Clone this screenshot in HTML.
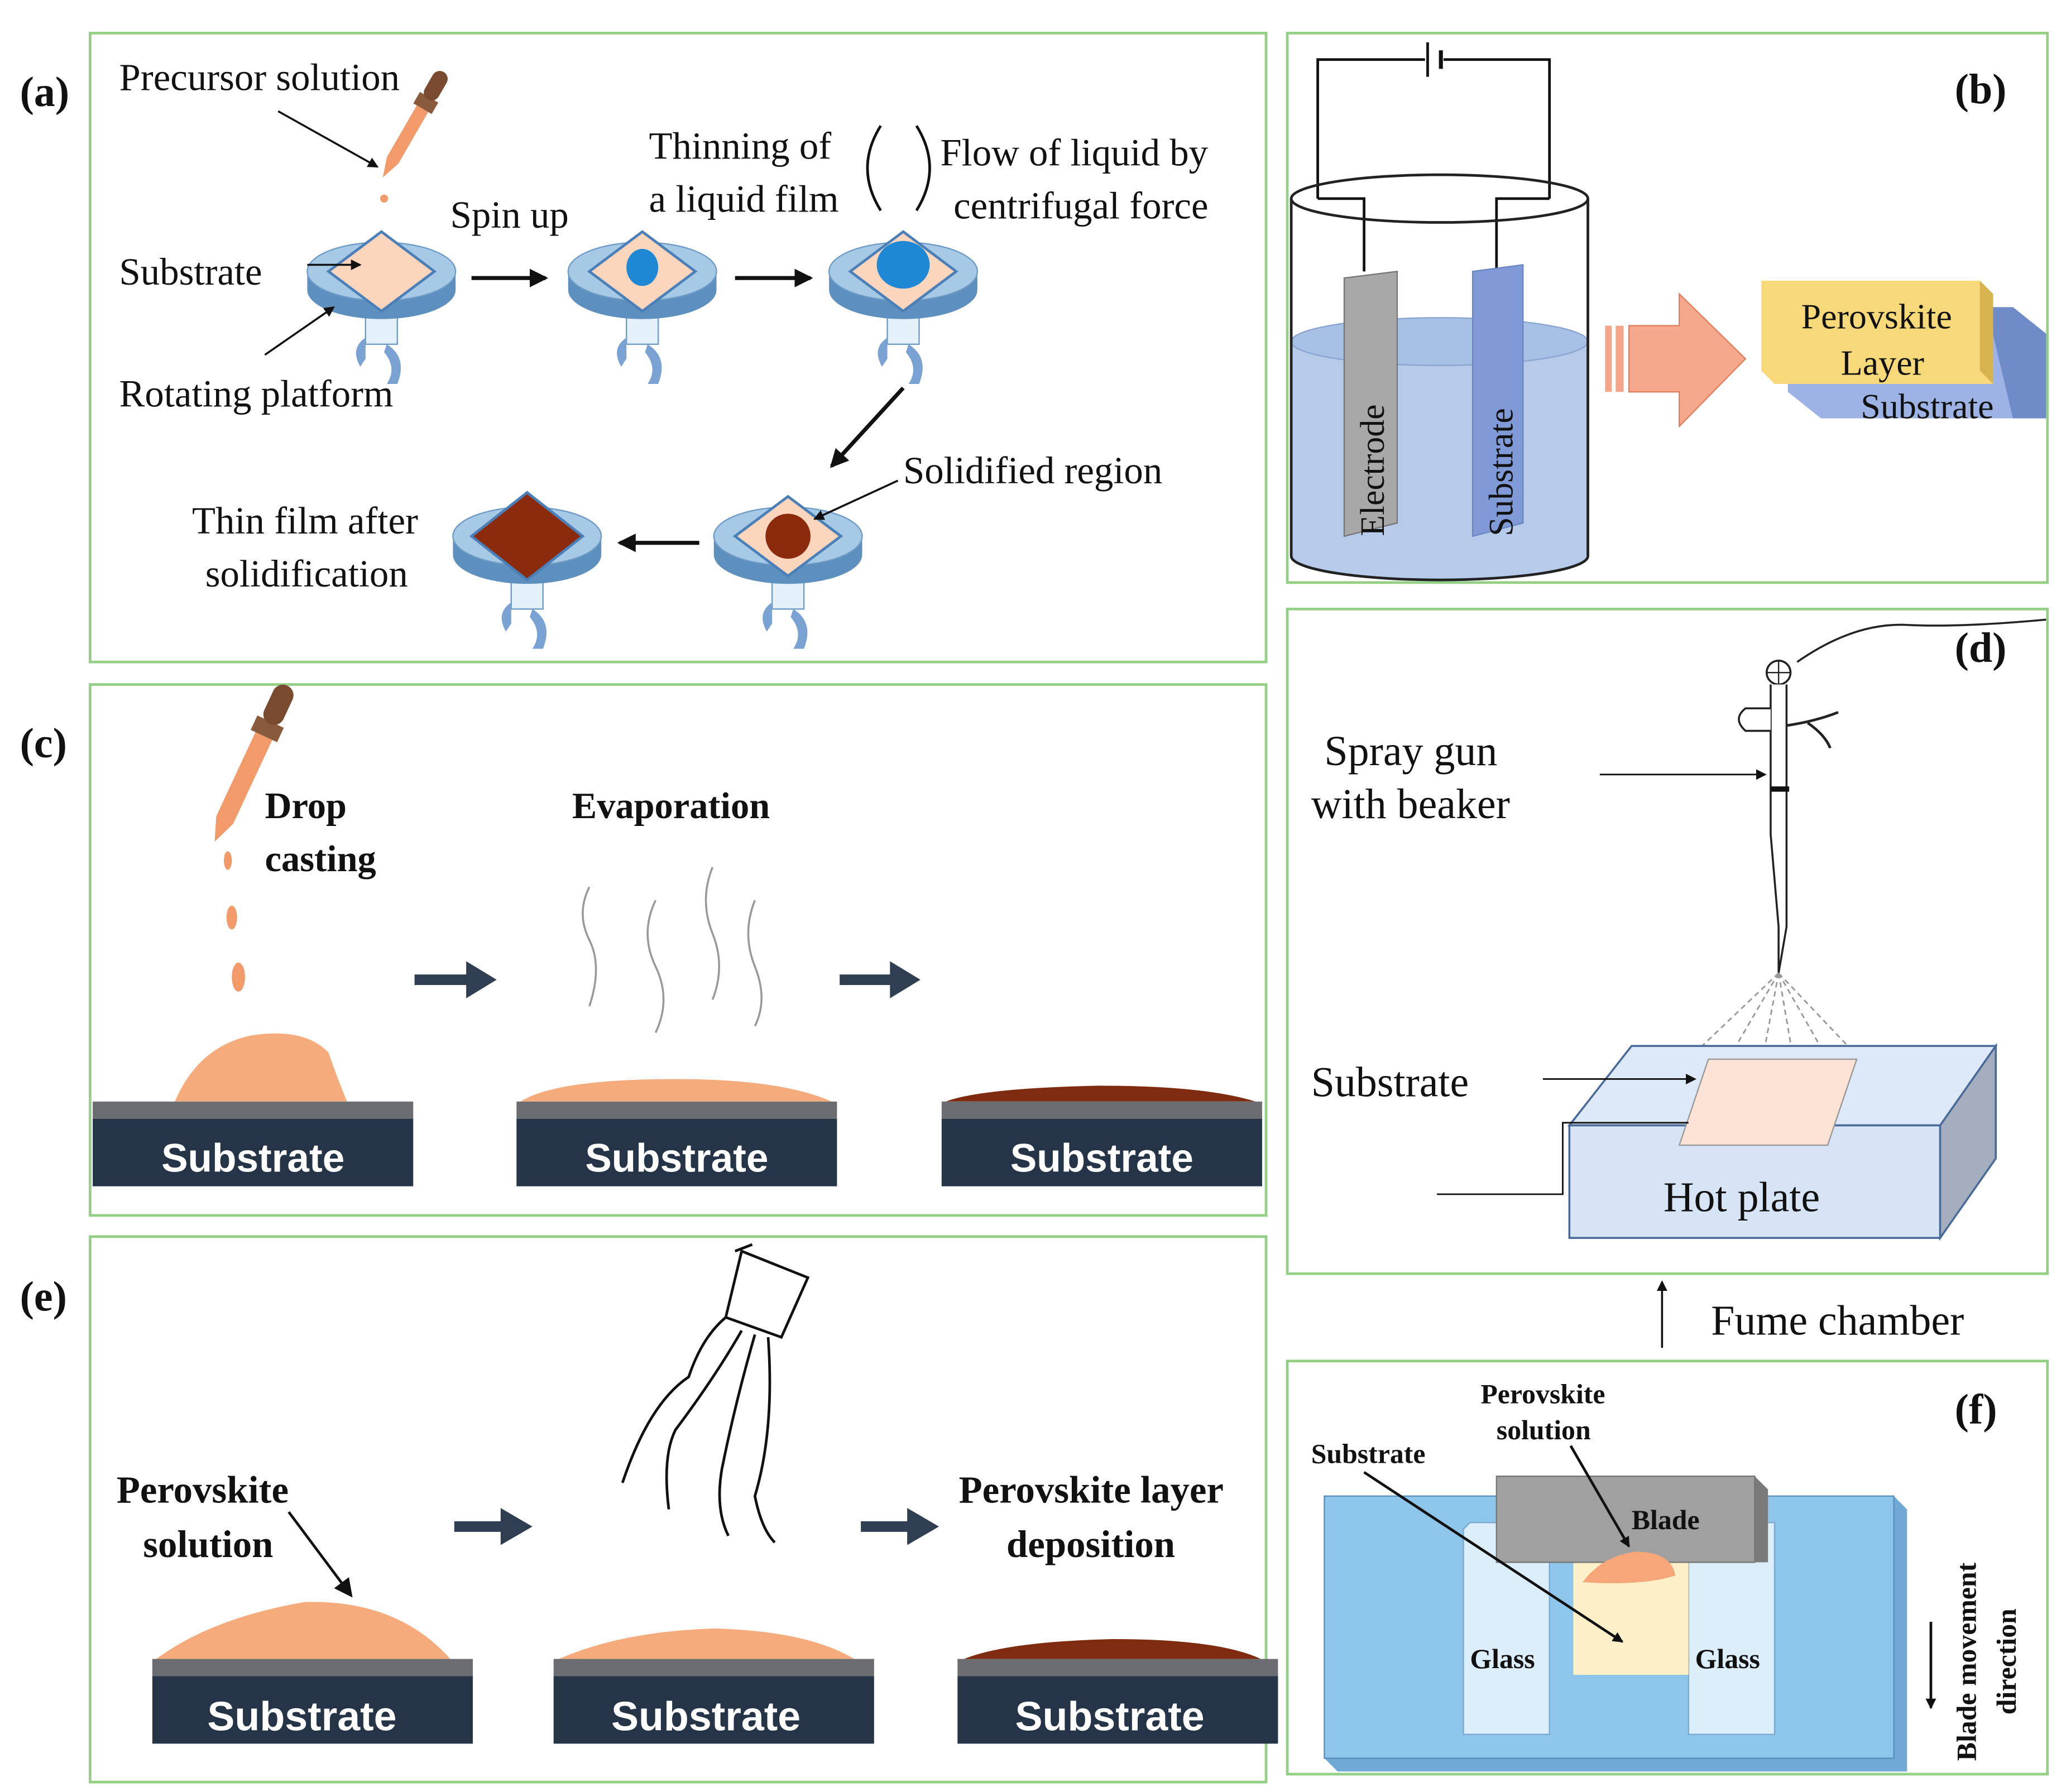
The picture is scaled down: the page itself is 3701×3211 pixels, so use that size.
<!DOCTYPE html>
<html><head><meta charset="utf-8">
<style>
html,body{margin:0;padding:0;background:#fff;}
svg{display:block;}
.s{font-family:"Liberation Serif",serif;fill:#111;}
.b{font-family:"Liberation Serif",serif;font-weight:bold;fill:#111;}
.w{font-family:"Liberation Sans",sans-serif;font-weight:bold;fill:#fff;}
</style></head><body>
<svg width="3701" height="3211" viewBox="0 0 1560 1353.5" xmlns="http://www.w3.org/2000/svg">
<defs>
<marker id="ar" markerWidth="8" markerHeight="8" refX="7" refY="4" orient="auto" markerUnits="userSpaceOnUse"><path d="M0,0 L8,4 L0,8 z" fill="#111"/></marker>
<marker id="ars" markerWidth="14" markerHeight="14" refX="12" refY="7" orient="auto" markerUnits="userSpaceOnUse"><path d="M0,0 L14,7 L0,14 z" fill="#111"/></marker>
<g id="plat">
 <rect x="-12" y="10" width="24" height="45" fill="#e4f1fa" stroke="#6f9cc6"/>
 <path d="M-56,0 L-56,14 A56,22 0 0 0 56,14 L56,0 z" fill="#5d8fbf"/>
 <ellipse cx="0" cy="0" rx="56" ry="22" fill="#a6cae6" stroke="#6f9cc6"/>
 <path d="M-12,50 q-12,8 -4,22 l4,-6 z" fill="#7aa3d3"/>
 <path d="M4,55 q16,10 8,30 l-8,0 q8,-12 -2,-24 z" fill="#7aa3d3"/>
</g>
<g id="dia"><path d="M0,-30 L40,0 L0,30 L-40,0 z" fill="#fcd5bd" stroke="#4a7fb8" stroke-width="2"/></g>
<g id="sub">
 <rect x="0" y="0" width="242" height="13" fill="#6b6d70"/>
 <rect x="0" y="13" width="242" height="51" fill="#263448"/>
</g>
</defs>
<g fill="none" stroke="#93cf84" stroke-width="2">
<rect x="68" y="25" width="888" height="475"/>
<rect x="972" y="25" width="574" height="415"/>
<rect x="68" y="517" width="888" height="401"/>
<rect x="972" y="460" width="574" height="502"/>
<rect x="68" y="934" width="888" height="412"/>
<rect x="972" y="1028" width="574" height="312"/>
</g>

<!-- (a) -->
<text x="15" y="80" class="b" font-size="32">(a)</text>
<text x="90" y="68" class="s" font-size="29">Precursor solution</text>
<line x1="210" y1="84" x2="285" y2="126" stroke="#111" stroke-width="1.5" marker-end="url(#ar)"/>
<g transform="translate(300,115) rotate(30)">
 <rect x="-5" y="-38" width="10" height="45" fill="#f39a6b"/>
 <rect x="-8" y="-48" width="16" height="10" fill="#8a5a3c"/>
 <rect x="-6" y="-70" width="12" height="24" rx="6" fill="#7a4a30"/>
 <path d="M-5,7 L0,22 L5,7z" fill="#f39a6b"/>
</g>
<circle cx="290" cy="150" r="3" fill="#f39a6b"/>
<text x="90" y="215" class="s" font-size="29">Substrate</text>
<text x="90" y="307" class="s" font-size="29">Rotating platform</text>
<use href="#plat" x="288" y="205"/><use href="#dia" x="288" y="205"/>
<line x1="232" y1="200" x2="272" y2="200" stroke="#111" stroke-width="1.5" marker-end="url(#ar)"/>
<line x1="200" y1="268" x2="252" y2="232" stroke="#111" stroke-width="1.5" marker-end="url(#ar)"/>
<text x="340" y="172" class="s" font-size="29">Spin up</text>
<line x1="356" y1="210" x2="412" y2="210" stroke="#111" stroke-width="3" marker-end="url(#ars)"/>
<use href="#plat" x="485" y="205"/><use href="#dia" x="485" y="205"/>
<ellipse cx="485" cy="202" rx="12" ry="14" fill="#1e88d4"/>
<line x1="555" y1="210" x2="612" y2="210" stroke="#111" stroke-width="3" marker-end="url(#ars)"/>
<use href="#plat" x="682" y="205"/><use href="#dia" x="682" y="205"/>
<ellipse cx="682" cy="200" rx="20" ry="18" fill="#1e88d4"/>
<text x="490" y="120" class="s" font-size="29">Thinning of</text>
<text x="490" y="160" class="s" font-size="29">a liquid film</text>
<path d="M665,95 q-20,32 0,64" stroke="#111" stroke-width="2" fill="none"/>
<path d="M692,95 q20,32 0,64" stroke="#111" stroke-width="2" fill="none"/>
<text x="710" y="125" class="s" font-size="29">Flow of liquid by</text>
<text x="720" y="165" class="s" font-size="29">centrifugal force</text>
<line x1="682" y1="293" x2="628" y2="352" stroke="#111" stroke-width="3" marker-end="url(#ars)"/>
<use href="#plat" x="595" y="405"/><use href="#dia" x="595" y="405"/>
<circle cx="595" cy="405" r="17" fill="#8b2a0c"/>
<text x="682" y="365" class="s" font-size="29">Solidified region</text>
<line x1="678" y1="363" x2="615" y2="392" stroke="#111" stroke-width="1.5" marker-end="url(#ar)"/>
<line x1="528" y1="410" x2="468" y2="410" stroke="#111" stroke-width="3" marker-end="url(#ars)"/>
<use href="#plat" x="398" y="405"/>
<path d="M398,372 L440,405 L398,438 L356,405z" fill="#8b2a0c" stroke="#4a7fb8" stroke-width="2"/>
<text x="145" y="403" class="s" font-size="29">Thin film after</text>
<text x="155" y="443" class="s" font-size="29">solidification</text>

<!-- (b) -->
<text x="1476" y="78" class="b" font-size="32">(b)</text>
<polyline points="995,150 995,45 1076,45" fill="none" stroke="#111" stroke-width="2"/>
<polyline points="1090,45 1170,45 1170,150" fill="none" stroke="#111" stroke-width="2"/>
<line x1="1078" y1="32" x2="1078" y2="58" stroke="#111" stroke-width="2"/>
<line x1="1088" y1="38" x2="1088" y2="52" stroke="#111" stroke-width="3"/>
<polyline points="995,150 1030,150 1030,205" fill="none" stroke="#111" stroke-width="2"/>
<polyline points="1170,150 1130,150 1130,205" fill="none" stroke="#111" stroke-width="2"/>
<path d="M975,258 L975,420 A112,18 0 0 0 1199,420 L1199,258 z" fill="#b6cbea"/>
<ellipse cx="1087" cy="258" rx="112" ry="18" fill="#a7c0e6" stroke="#8aa4d0"/>
<path d="M1015,210 L1055,205 L1055,395 L1015,405z" fill="#a8a8a8" stroke="#777"/>
<path d="M1112,205 L1150,200 L1150,395 L1112,405z" fill="#7f9ad6" stroke="#6a86c4"/>
<path d="M975,150 L975,420 A112,18 0 0 0 1199,420 L1199,150" fill="none" stroke="#222" stroke-width="2"/>
<ellipse cx="1087" cy="150" rx="112" ry="18" fill="none" stroke="#222" stroke-width="2"/>
<text transform="translate(1045,405) rotate(-90)" class="s" font-size="26">Electrode</text>
<text transform="translate(1142,405) rotate(-90)" class="s" font-size="26">Substrate</text>
<rect x="1212" y="246" width="5" height="50" fill="#f4a58a"/>
<rect x="1220" y="246" width="6" height="50" fill="#f4a58a"/>
<path d="M1230,246 L1268,246 L1268,222 L1318,271 L1268,322 L1268,296 L1230,296z" fill="#f6a88c" stroke="#e07f60"/>
<path d="M1350,232 L1520,232 L1545,252 L1545,316 L1375,316 L1350,296z" fill="#9db3e6"/>
<path d="M1500,232 L1520,232 L1545,252 L1545,316 L1520,316z" fill="#6f8cc8"/>
<path d="M1330,212 L1495,212 L1505,222 L1505,290 L1340,290 L1330,280z" fill="#f8d97a"/>
<path d="M1495,212 L1505,222 L1505,290 L1495,280z" fill="#d8b450"/>
<text x="1360" y="248" class="s" font-size="27">Perovskite</text>
<text x="1390" y="283" class="s" font-size="27">Layer</text>
<text x="1405" y="316" class="s" font-size="27">Substrate</text>

<!-- (c) -->
<text x="15" y="572" class="b" font-size="32">(c)</text>
<g transform="translate(195,565) rotate(25)">
 <rect x="-7" y="-10" width="14" height="70" fill="#f39a6b"/>
 <rect x="-11" y="-22" width="22" height="12" fill="#8a5a3c"/>
 <rect x="-8" y="-52" width="16" height="32" rx="8" fill="#7a4a30"/>
 <path d="M-7,60 L0,78 L7,60z" fill="#f39a6b"/>
</g>
<ellipse cx="172" cy="650" rx="3" ry="7" fill="#f39a6b"/>
<ellipse cx="175" cy="693" rx="4" ry="9" fill="#f39a6b"/>
<ellipse cx="180" cy="738" rx="5" ry="11" fill="#f39a6b"/>
<text x="200" y="618" class="b" font-size="28">Drop</text>
<text x="200" y="658" class="b" font-size="28">casting</text>
<path d="M132,832 Q150,790 190,782 Q230,776 248,795 Q255,815 262,832z" fill="#f6ab7c"/>
<use href="#sub" x="70" y="832"/>
<text x="191" y="885" class="w" font-size="30" text-anchor="middle">Substrate</text>
<path d="M313,740 L360,740" stroke="#2f3e50" stroke-width="8"/><path d="M352,726 L375,740 L352,754z" fill="#2f3e50"/>
<text x="432" y="618" class="b" font-size="28">Evaporation</text>
<g fill="none" stroke="#999" stroke-width="1.5">
<path d="M445,670 q-10,20 0,40 q10,20 0,50"/>
<path d="M495,680 q-12,25 0,50 q12,25 0,50"/>
<path d="M538,655 q-10,25 0,50 q10,25 0,50"/>
<path d="M570,680 q-10,25 0,50 q10,25 0,45"/>
</g>
<path d="M393,832 Q420,815 510,815 Q590,815 628,832z" fill="#f6ab7c"/>
<use href="#sub" x="390" y="832"/>
<text x="511" y="885" class="w" font-size="30" text-anchor="middle">Substrate</text>
<path d="M634,740 L680,740" stroke="#2f3e50" stroke-width="8"/><path d="M672,726 L695,740 L672,754z" fill="#2f3e50"/>
<path d="M714,832 Q740,822 830,820 Q910,820 948,832z" fill="#7f2b10"/>
<use href="#sub" x="711" y="832"/>
<text x="832" y="885" class="w" font-size="30" text-anchor="middle">Substrate</text>

<!-- (d) -->
<text x="1476" y="500" class="b" font-size="32">(d)</text>
<path d="M1357,500 Q1400,470 1440,472 Q1480,474 1545,468" fill="none" stroke="#222" stroke-width="1.5"/>
<circle cx="1343" cy="508" r="9" fill="#fff" stroke="#222" stroke-width="1.5"/>
<line x1="1334" y1="508" x2="1352" y2="508" stroke="#222"/><line x1="1343" y1="499" x2="1343" y2="517" stroke="#222"/>
<path d="M1337,517 L1337,630 L1343,700 L1343,735 L1349,700 L1349,630 L1349,517" fill="#fff" stroke="#222" stroke-width="1.5"/>
<line x1="1337" y1="596" x2="1351" y2="596" stroke="#111" stroke-width="4"/>
<path d="M1337,535 L1318,535 Q1308,543 1318,552 L1337,552" fill="#fff" stroke="#222" stroke-width="1.5"/>
<path d="M1349,548 Q1370,545 1388,538 M1365,546 Q1378,555 1382,565" fill="none" stroke="#222" stroke-width="2"/>
<text x="1000" y="578" class="s" font-size="32">Spray gun</text>
<text x="990" y="618" class="s" font-size="32">with beaker</text>
<line x1="1208" y1="585" x2="1333" y2="585" stroke="#111" stroke-width="1.2" marker-end="url(#ar)"/>
<g stroke="#999" stroke-width="1.2" stroke-dasharray="4,3">
<line x1="1343" y1="735" x2="1280" y2="795"/><line x1="1343" y1="735" x2="1305" y2="800"/>
<line x1="1343" y1="735" x2="1330" y2="805"/><line x1="1343" y1="735" x2="1355" y2="805"/>
<line x1="1343" y1="735" x2="1380" y2="800"/><line x1="1343" y1="735" x2="1400" y2="795"/>
</g>
<path d="M1185,850 L1232,790 L1507,790 L1465,850z" fill="#dde9f8" stroke="#4a6a9a" stroke-width="1.5"/>
<rect x="1185" y="850" width="280" height="85" fill="#d7e4f6" stroke="#4a6a9a" stroke-width="1.5"/>
<path d="M1465,850 L1507,790 L1507,875 L1465,935z" fill="#a5aebf" stroke="#4a6a9a" stroke-width="1.5"/>
<path d="M1268,865 L1290,800 L1402,800 L1380,865z" fill="#fde3d5" stroke="#999"/>
<text x="990" y="828" class="s" font-size="32">Substrate</text>
<line x1="1165" y1="815" x2="1280" y2="815" stroke="#111" stroke-width="1.2" marker-end="url(#ar)"/>
<polyline points="1085,902 1180,902 1180,848 1275,848" fill="none" stroke="#111" stroke-width="1.2"/>
<text x="1256" y="915" class="s" font-size="32">Hot plate</text>
<line x1="1255" y1="1018" x2="1255" y2="968" stroke="#111" stroke-width="1.5" marker-end="url(#ar)"/>
<text x="1292" y="1008" class="s" font-size="32">Fume chamber</text>

<!-- (e) -->
<text x="15" y="990" class="b" font-size="32">(e)</text>
<text x="88" y="1135" class="b" font-size="29">Perovskite</text>
<text x="108" y="1176" class="b" font-size="29">solution</text>
<line x1="218" y1="1142" x2="265" y2="1205" stroke="#111" stroke-width="2" marker-end="url(#ars)"/>
<path d="M118,1253 Q160,1222 230,1210 Q300,1208 340,1253z" fill="#f6ab7c"/>
<use href="#sub" x="115" y="1253"/>
<text x="228" y="1307" class="w" font-size="31" text-anchor="middle">Substrate</text>
<path d="M343,1153 L385,1153" stroke="#2f3e50" stroke-width="8"/><path d="M378,1139 L402,1153 L378,1167z" fill="#2f3e50"/>
<g fill="none" stroke="#111" stroke-width="2">
<path d="M560,945 L610,965 L590,1010 L548,995z" fill="#fff"/>
<line x1="555" y1="945" x2="568" y2="940"/>
<path d="M548,995 Q530,1010 520,1040 Q490,1060 470,1120"/>
<path d="M560,1005 Q540,1040 510,1080 Q500,1100 505,1140"/>
<path d="M570,1008 Q555,1060 545,1110 Q540,1140 550,1160"/>
<path d="M580,1010 Q585,1080 570,1130 Q575,1155 585,1165"/>
</g>
<path d="M422,1253 Q470,1232 540,1230 Q610,1232 645,1253z" fill="#f6ab7c"/>
<use href="#sub" x="418" y="1253"/>
<text x="533" y="1307" class="w" font-size="31" text-anchor="middle">Substrate</text>
<path d="M650,1153 L692,1153" stroke="#2f3e50" stroke-width="8"/><path d="M685,1139 L709,1153 L685,1167z" fill="#2f3e50"/>
<text x="724" y="1135" class="b" font-size="29">Perovskite layer</text>
<text x="760" y="1176" class="b" font-size="29">deposition</text>
<path d="M728,1253 Q760,1240 840,1238 Q920,1238 952,1253z" fill="#7f2b10"/>
<use href="#sub" x="723" y="1253"/>
<text x="838" y="1307" class="w" font-size="31" text-anchor="middle">Substrate</text>

<!-- (f) -->
<text x="1476" y="1075" class="b" font-size="32">(f)</text>
<path d="M1000,1130 L1430,1130 L1440,1140 L1440,1338 L1010,1338 L1000,1328z" fill="#6fa9d4"/>
<rect x="1000" y="1130" width="430" height="198" fill="#8ec5ea" stroke="#5a8fbf"/>
<path d="M1105,1155 L1110,1150 L1170,1150 L1170,1310 L1105,1310z" fill="#dceefa" stroke="#7aaad0"/>
<path d="M1275,1155 L1280,1150 L1340,1150 L1340,1310 L1275,1310z" fill="#dceefa" stroke="#7aaad0"/>
<rect x="1188" y="1180" width="87" height="85" fill="#fdf0c8"/>
<path d="M1130,1115 L1325,1115 L1335,1125 L1335,1180 L1140,1180 L1130,1170z" fill="#7a7a7a"/>
<rect x="1130" y="1115" width="195" height="65" fill="#a0a0a0" stroke="#777"/>
<path d="M1195,1195 Q1210,1175 1235,1172 Q1262,1172 1265,1190 Q1240,1198 1195,1195z" fill="#f6a678"/>
<text x="1232" y="1155" class="b" font-size="21">Blade</text>
<text x="1110" y="1260" class="b" font-size="21">Glass</text>
<text x="1280" y="1260" class="b" font-size="21">Glass</text>
<text x="1118" y="1060" class="b" font-size="21">Perovskite</text>
<text x="1130" y="1087" class="b" font-size="21">solution</text>
<text x="990" y="1105" class="b" font-size="21">Substrate</text>
<line x1="1186" y1="1092" x2="1230" y2="1168" stroke="#111" stroke-width="2" marker-end="url(#ar)"/>
<line x1="1030" y1="1112" x2="1225" y2="1240" stroke="#111" stroke-width="2" marker-end="url(#ar)"/>
<line x1="1458" y1="1225" x2="1458" y2="1290" stroke="#111" stroke-width="2" marker-end="url(#ar)"/>
<text transform="translate(1492,1330) rotate(-90)" class="b" font-size="21">Blade movement</text>
<text transform="translate(1522,1295) rotate(-90)" class="b" font-size="21">direction</text>
</svg>
</body></html>
